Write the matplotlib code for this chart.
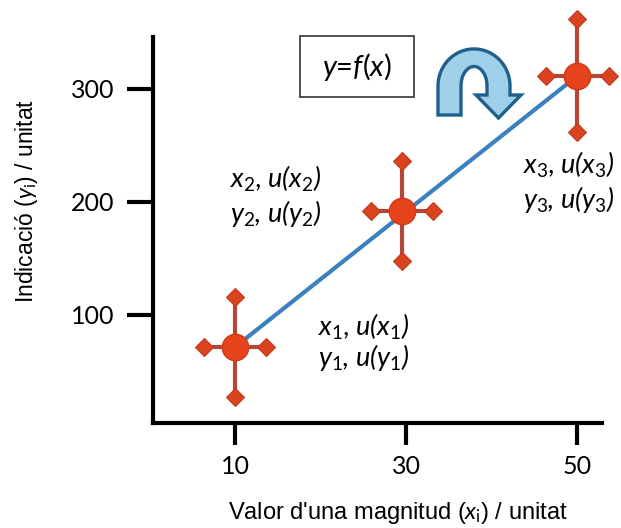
import numpy as np
import matplotlib
matplotlib.use("Agg")
import matplotlib.pyplot as plt
from matplotlib.patches import Rectangle, PathPatch
from matplotlib.path import Path

plt.rcParams['mathtext.fontset'] = 'custom'
plt.rcParams['mathtext.rm'] = 'Lato'
plt.rcParams['mathtext.it'] = 'Lato:italic'

# ---- data ----
x_vals = [10, 29.5, 50]
y_vals = [71.7, 192, 311.5]
x_unc = [3.6, 3.6, 3.7]
y_unc = [44, 44, 50]
x_ticks = [10, 30, 50]
y_ticks = [100, 200, 300]
point_labels = [(r"$x_1$, $u$($x_1$)", r"$y_1$, $u$($y_1$)"),
                (r"$x_2$, $u$($x_2$)", r"$y_2$, $u$($y_2$)"),
                (r"$x_3$, $u$($x_3$)", r"$y_3$, $u$($y_3$)")]
xlabel = r"Valor d'una magnitud ($x_\mathrm{i}$) / unitat"
ylabel = r"Indicació ($y_\mathrm{i}$) / unitat"

W, H = 621, 528
fig = plt.figure(figsize=(W / 100, H / 100), dpi=100)
ax = fig.add_axes([153 / W, 1 - 423 / H, (602 - 153) / W, (423 - 37) / H])
ax.set_xlim(0.4, 52.9)
ax.set_ylim(4.4, 346)

for s in ['top', 'right']:
    ax.spines[s].set_visible(False)
for s in ['left', 'bottom']:
    ax.spines[s].set_linewidth(3)
    ax.spines[s].set_color('black')

ax.set_xticks(x_ticks)
ax.set_yticks(y_ticks)
ax.tick_params(axis='y', length=19, width=3, pad=9, labelsize=18)
ax.tick_params(axis='x', length=16, width=3, pad=7, labelsize=18)
for lab in ax.get_xticklabels() + ax.get_yticklabels():
    lab.set_fontfamily('Lato')

x = np.array(x_vals)
y = np.array(y_vals)
xe = np.array(x_unc)
ye = np.array(y_unc)

err_col = '#b4473a'
cap_col = '#d9441f'
eb = ax.errorbar(x, y, xerr=xe, yerr=ye, fmt='none', ecolor=err_col, elinewidth=3, capsize=0, zorder=2)
for c in eb.lines[2]:
    c.set_clip_on(False)
for xx, yy in [(x, y + ye), (x, y - ye), (x + xe, y), (x - xe, y)]:
    ax.plot(xx, yy, 'D', color=cap_col, markersize=9, markeredgecolor='#c23a1e',
            markeredgewidth=0.8, linestyle='none', zorder=3, clip_on=False)

# fitted line from first to last point
ax.plot([x[0], x[-1]], [y[0], y[-1]], color='#3b80bf', lw=3, solid_capstyle='butt', zorder=4)
ax.plot(x, y, 'o', color='#e5431b', markersize=19, markeredgecolor='#d03a18',
        markeredgewidth=1, zorder=5, clip_on=False)

# point annotations
text_pos = [(19.7, 89.4, 62.8), (9.4, 220, 190), (43.7, 233, 202)]
for (l1, l2), (tx, ty1, ty2) in zip(point_labels, text_pos):
    ax.text(tx, ty1, l1, fontsize=19.5, family='Lato', style='italic', va='center', ha='left',
            clip_on=False, zorder=6)
    ax.text(tx, ty2, l2, fontsize=19.5, family='Lato', style='italic', va='center', ha='left',
            clip_on=False, zorder=6)

# axis labels
fig.text(398 / W, 1 - 513 / H, xlabel, fontsize=17, family='Liberation Sans',
         ha='center', va='center')
fig.text(27 / W, 1 - 201 / H, ylabel, fontsize=16.5, family='Liberation Sans',
         ha='center', va='center', rotation=90)

# y=f(x) box
def fx(px):
    return px / W
def fy(py):
    return 1 - py / H

fig.patches.append(Rectangle((fx(300), fy(97)), (414 - 300) / W, (97 - 36) / H,
                             transform=fig.transFigure, fill=False, edgecolor='#333333', lw=1.2))
fig.text(fx(357), fy(67), r"$y$=$f$($x$)", fontsize=21, family='Lato', ha='center', va='center')

# curved arrow
cx, cy = 474, 86
Ro, Ri = 36, 13
verts = []
verts.append((cx - Ro, 115))
th = np.linspace(np.pi, 0, 40)
for t in th:
    verts.append((cx + Ro * np.cos(t), cy - Ro * np.sin(t) * 1.03))
verts.append((cx + Ro, 95))
verts.append((cx + Ro + 11, 95))
verts.append((cx + (Ro + Ri) / 2, 118))
verts.append((cx + Ri - 11, 95))
verts.append((cx + Ri, 95))
for t in th[::-1]:
    verts.append((cx + Ri * np.cos(t), cy - Ri * np.sin(t) * 1.5))
verts.append((cx - Ri, 115))
verts.append((cx - Ro, 115))
vf = [(fx(a), fy(b)) for a, b in verts]
codes = [Path.MOVETO] + [Path.LINETO] * (len(vf) - 2) + [Path.CLOSEPOLY]
fig.patches.append(PathPatch(Path(vf, codes), transform=fig.transFigure,
                             facecolor='#9fd0ea', edgecolor='#1f5f8e', lw=2.4, joinstyle='miter'))

fig.savefig('out.png', dpi=100)
